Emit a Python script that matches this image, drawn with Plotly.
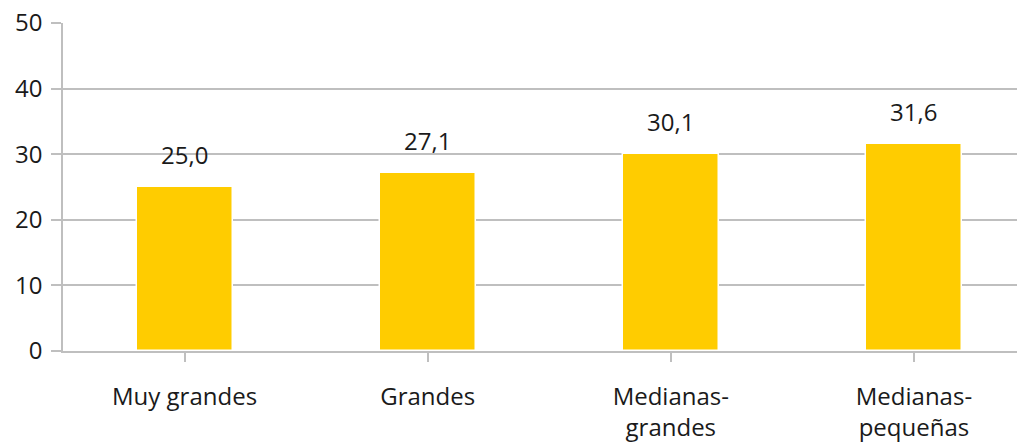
import plotly.graph_objects as go

categories = ["Muy grandes", "Grandes", "Medianas-<br>grandes", "Medianas-<br>pequeñas"]
values = [25.0, 27.1, 30.1, 31.6]
value_labels = ["25,0", "27,1", "30,1", "31,6"]
y_ticks = [0, 10, 20, 30, 40, 50]

FONT = "Open Sans"
FS = 24
GRID = "#bfbfbf"
TXT = "#1a1a1a"

x_idx = list(range(len(categories)))

fig = go.Figure()
fig.add_trace(go.Bar(
    x=x_idx, y=values, width=0.395,
    marker=dict(color="#FFCC00", line=dict(color="white", width=1.5)),
    hoverinfo="skip",
))

for i, (v, t) in enumerate(zip(values, value_labels)):
    fig.add_annotation(x=i, y=v, text=t, showarrow=False, yanchor="bottom",
                       yshift=14, font=dict(family=FONT, size=FS, color=TXT))

fig.update_layout(
    width=1017, height=445,
    margin=dict(l=63, r=0, t=23, b=94),
    plot_bgcolor="white", paper_bgcolor="white",
    showlegend=False,
    font=dict(family=FONT, size=FS, color=TXT),
    bargap=0,
)
fig.update_xaxes(
    range=[-0.5, 3.424], automargin=False,
    tickmode="array", tickvals=x_idx, ticktext=categories,
    tickson="boundaries", ticks="outside", ticklen=9, tickcolor=GRID, tickwidth=1.5,
    showline=True, linecolor=GRID, linewidth=1.5,
    showgrid=False, zeroline=False,
    ticklabelstandoff=14,
    tickfont=dict(family=FONT, size=FS, color=TXT),
)
fig.update_yaxes(
    range=[0, 50], tickmode="array", tickvals=y_ticks, automargin=False,
    ticks="outside", ticklen=10, tickcolor=GRID, tickwidth=1.5,
    showline=True, linecolor=GRID, linewidth=1.5,
    showgrid=True, gridcolor=GRID, gridwidth=1.5,
    zeroline=False,
    ticklabelstandoff=4,
    tickfont=dict(family=FONT, size=FS, color=TXT),
)

fig.write_html("out.html", config={"displayModeBar": False},
               post_script="document.body.style.margin='0';")
